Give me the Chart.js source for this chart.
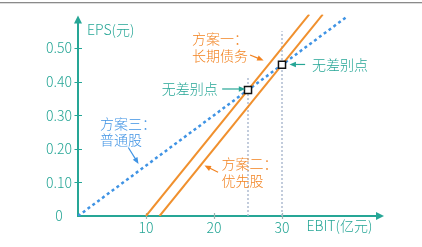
<!DOCTYPE html>
<html lang="zh">
<head>
  <meta charset="UTF-8">
  <title>EBIT-EPS 无差别点</title>
  <style>
    html, body { margin: 0; padding: 0; background: #fff; }
    #wrap { width: 422px; height: 247px; }
  </style>
  <script src="https://cdn.jsdelivr.net/npm/chart.js"></script>
</head>
<body>
  <div id="wrap"><canvas id="epsChart" width="422" height="247"></canvas></div>

  <script>
    // axis ticks
    const xTicks = [10, 20, 30];
    const yTicks = [0, 0.1, 0.2, 0.3, 0.4, 0.5];

    // 方案一：长期债务
    const debtX = [10, 34];
    const debtY = [0, 0.6];
    // 方案二：优先股
    const prefX = [12, 36];
    const prefY = [0, 0.6];
    // 方案三：普通股
    const stockX = [0, 39.6];
    const stockY = [0, 0.594];

    // 无差别点 and the dotted guides above them
    const breakX = [25, 30];
    const breakY = [0.375, 0.45];
    const guideTop = [0.415, 0.55];

    const teal = '#26a696';
    const orange = '#f2821f';
    const orangeLine = '#f0902e';
    const blue = '#3f93e4';
    const guideColor = '#aebbd0';
    const font = '"Noto Sans CJK SC", "Noto Sans", sans-serif';

    const pts = (xs, ys) => xs.map((x, i) => ({ x: x, y: ys[i] }));

    // text labels + arrows, placed in data units
    const notes = [
      { text: '方案一：', x: 16.76, y: 0.527, color: orange },
      { text: '长期债务', x: 16.76, y: 0.477, color: orange },
      { text: '无差别点', x: 12.3, y: 0.378, color: teal },
      { text: '无差别点', x: 34.4, y: 0.451, color: teal },
      { text: '方案三：', x: 3.24, y: 0.275, color: blue },
      { text: '普通股', x: 3.24, y: 0.227, color: blue },
      { text: '方案二：', x: 21.1, y: 0.156, color: orange },
      { text: '优先股', x: 21.1, y: 0.106, color: orange }
    ];
    const arrows = [
      { from: [25.3, 0.479], to: [27.3, 0.463], color: orange },
      { from: [21.2, 0.378], to: [24.6, 0.378], color: teal },
      { from: [33.4, 0.451], to: [31.1, 0.451], color: teal },
      { from: [7.4, 0.204], to: [8.9, 0.155], color: blue },
      { from: [20.6, 0.130], to: [18.6, 0.150], color: orange }
    ];

    function arrowLine(ctx, x1, y1, x2, y2, color) {
      const ang = Math.atan2(y2 - y1, x2 - x1);
      const head = 7;
      ctx.save();
      ctx.strokeStyle = color;
      ctx.fillStyle = color;
      ctx.lineWidth = 1.2;
      ctx.beginPath();
      ctx.moveTo(x1, y1);
      ctx.lineTo(x2 - Math.cos(ang) * head * 0.8, y2 - Math.sin(ang) * head * 0.8);
      ctx.stroke();
      ctx.beginPath();
      ctx.moveTo(x2, y2);
      ctx.lineTo(x2 - head * Math.cos(ang - 0.4), y2 - head * Math.sin(ang - 0.4));
      ctx.lineTo(x2 - head * Math.cos(ang + 0.4), y2 - head * Math.sin(ang + 0.4));
      ctx.closePath();
      ctx.fill();
      ctx.restore();
    }

    // axes with arrow heads, tick crosses, page rule and notes
    const decor = {
      id: 'decor',
      beforeDatasetsDraw(chart) {
        const ctx = chart.ctx;
        const xs = chart.scales.x, ys = chart.scales.y;
        const x0 = xs.getPixelForValue(0), y0 = ys.getPixelForValue(0);
        const top = chart.chartArea.top, right = chart.chartArea.right;

        ctx.save();
        ctx.fillStyle = '#8a8a8a';
        ctx.fillRect(0, 2, chart.width, 1.3);

        ctx.strokeStyle = teal;
        ctx.fillStyle = teal;
        ctx.lineWidth = 2;
        ctx.beginPath();
        ctx.moveTo(x0, y0 + 1);
        ctx.lineTo(x0, top + 6);
        ctx.moveTo(x0 - 1, y0);
        ctx.lineTo(right - 6, y0);
        ctx.stroke();
        // arrow heads
        ctx.beginPath();
        ctx.moveTo(x0, top + 1);
        ctx.lineTo(x0 - 4, top + 9);
        ctx.lineTo(x0 + 4, top + 9);
        ctx.closePath();
        ctx.fill();
        ctx.beginPath();
        ctx.moveTo(right, y0);
        ctx.lineTo(right - 8, y0 - 4);
        ctx.lineTo(right - 8, y0 + 4);
        ctx.closePath();
        ctx.fill();

        ctx.lineWidth = 1.2;
        ctx.beginPath();
        yTicks.slice(1).forEach(v => {
          const py = Math.round(ys.getPixelForValue(v)) + 0.5;
          ctx.moveTo(x0 - 3.5, py);
          ctx.lineTo(x0 + 4, py);
        });
        ctx.stroke();
        ctx.strokeStyle = '#9bb5b0';
        ctx.beginPath();
        xTicks.forEach(v => {
          const px = Math.round(xs.getPixelForValue(v)) + 0.5;
          ctx.moveTo(px, y0 - 3);
          ctx.lineTo(px, y0 + 3);
        });
        ctx.stroke();

        ctx.font = '300 14px ' + font;
        ctx.fillStyle = teal;
        ctx.textBaseline = 'middle';
        ctx.textAlign = 'left';
        ctx.fillText('EPS(元)', x0 + 9, top + 15);
        ctx.fillText('EBIT(亿元)', xs.getPixelForValue(33.6), y0 + 10);
        ctx.restore();
      },
      afterDatasetsDraw(chart) {
        const ctx = chart.ctx;
        const xs = chart.scales.x, ys = chart.scales.y;
        ctx.save();
        ctx.font = '300 14px ' + font;
        ctx.textBaseline = 'middle';
        ctx.textAlign = 'left';
        notes.forEach(n => {
          ctx.fillStyle = n.color;
          ctx.fillText(n.text, xs.getPixelForValue(n.x), ys.getPixelForValue(n.y));
        });
        ctx.restore();
        arrows.forEach(a => {
          arrowLine(ctx,
            xs.getPixelForValue(a.from[0]), ys.getPixelForValue(a.from[1]),
            xs.getPixelForValue(a.to[0]), ys.getPixelForValue(a.to[1]), a.color);
        });
      }
    };

    const guideSets = breakX.map((x, i) => ({
      data: pts([x, x], [0, guideTop[i]]),
      showLine: true,
      borderColor: guideColor,
      borderWidth: 1.5,
      borderDash: [2, 2],
      pointRadius: 0,
      order: 4
    }));

    new Chart(document.getElementById('epsChart'), {
      type: 'scatter',
      data: {
        datasets: [
          ...guideSets,
          {
            label: '方案三：普通股',
            data: pts(stockX, stockY),
            showLine: true,
            borderColor: blue,
            borderWidth: 2.5,
            borderDash: [3, 3],
            pointRadius: 0,
            order: 3
          },
          {
            label: '方案一：长期债务',
            data: pts(debtX, debtY),
            showLine: true,
            borderColor: orangeLine,
            borderWidth: 2,
            pointRadius: 0,
            order: 2
          },
          {
            label: '方案二：优先股',
            data: pts(prefX, prefY),
            showLine: true,
            borderColor: orangeLine,
            borderWidth: 2,
            pointRadius: 0,
            order: 2
          },
          {
            label: '无差别点',
            data: pts(breakX, breakY),
            showLine: false,
            pointStyle: 'rect',
            pointRadius: 5,
            pointBorderWidth: 1.5,
            pointBorderColor: '#111',
            pointBackgroundColor: '#fff',
            order: 1
          }
        ]
      },
      options: {
        responsive: false,
        animation: false,
        devicePixelRatio: 1,
        layout: { padding: { top: 12, right: 38, left: 0, bottom: 0 } },
        plugins: {
          legend: { display: false },
          tooltip: { enabled: false }
        },
        scales: {
          x: {
            type: 'linear',
            min: 0,
            max: 45,
            afterFit: s => { s.height = 31; },
            afterBuildTicks: s => { s.ticks = xTicks.map(v => ({ value: v })); },
            grid: { display: false, drawTicks: false },
            border: { display: false },
            ticks: {
              padding: 3,
              color: teal,
              font: { size: 14, family: font, weight: 300 },
              maxRotation: 0,
              callback: v => String(v)
            }
          },
          y: {
            type: 'linear',
            min: 0,
            max: 0.6,
            afterFit: s => { s.width = 78; },
            afterBuildTicks: s => { s.ticks = yTicks.map(v => ({ value: v })); },
            grid: { display: false, drawTicks: false },
            border: { display: false },
            ticks: {
              padding: 6,
              crossAlign: 'center',
              color: teal,
              font: { size: 14, family: font, weight: 300 },
              callback: v => (v === 0 ? '0' : v.toFixed(2))
            }
          }
        }
      },
      plugins: [decor]
    });
  </script>
</body>
</html>
